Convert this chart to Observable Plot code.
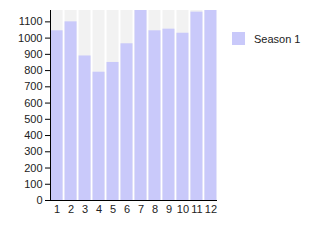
<!DOCTYPE html>
<html><head><meta charset="utf-8">
<script src="https://cdn.jsdelivr.net/npm/d3@7"></script>
<script src="https://cdn.jsdelivr.net/npm/@observablehq/plot@0.6"></script>
<style>
body{margin:0;background:#fff;font-family:"Liberation Sans",Arial,sans-serif;}
#wrap{position:relative;width:315px;height:250px;}
#legend{position:absolute;left:232px;top:32px;display:flex;align-items:center;font-size:11px;color:#222;}
#legend span.sw{display:inline-block;width:13px;height:13px;background:#c9c9fa;margin-right:9px;}
</style></head>
<body><div id="wrap"><div id="chart"></div><div id="legend"><span class="sw"></span><span>Season 1</span></div></div>
<script>
const categories = ["1","2","3","4","5","6","7","8","9","10","11","12"];
const season1 = [1045, 1100, 890, 790, 850, 965, 1170, 1045, 1055, 1030, 1160, 1170];
const yTicks = [0,100,200,300,400,500,600,700,800,900,1000,1100];
const yMax = 1170;
const data = categories.map((c,i)=>({cat:c, v:season1[i]}));
const chart = Plot.plot({
  width: 315, height: 250,
  marginLeft: 50, marginRight: 98, marginTop: 10, marginBottom: 50,
  style: {fontFamily: '"Liberation Sans", Arial, sans-serif', fontSize: "11px", color: "#222"},
  x: {domain: categories, paddingInner: 0.14, paddingOuter: 0.04, round: false, label: null},
  y: {domain: [0, yMax], label: null},
  marks: [
    Plot.barY(categories, {x: d=>d, y: ()=>yMax, fill: "#f2f2f2"}),
    Plot.barY(data, {x: "cat", y: "v", fill: "#c9c9fa"}),
    Plot.axisY({ticks: yTicks, tickFormat: d=>String(d), tickSize: 5, tickPadding: 3, label: null, stroke: "#000"}),
    Plot.axisX({tickSize: 0, tickPadding: 5, label: null}),
    Plot.frame({anchor: "left", stroke: "#000"}),
    Plot.ruleY([0], {stroke: "#000"})
  ]
});
document.getElementById("chart").appendChild(chart);
</script></body></html>
